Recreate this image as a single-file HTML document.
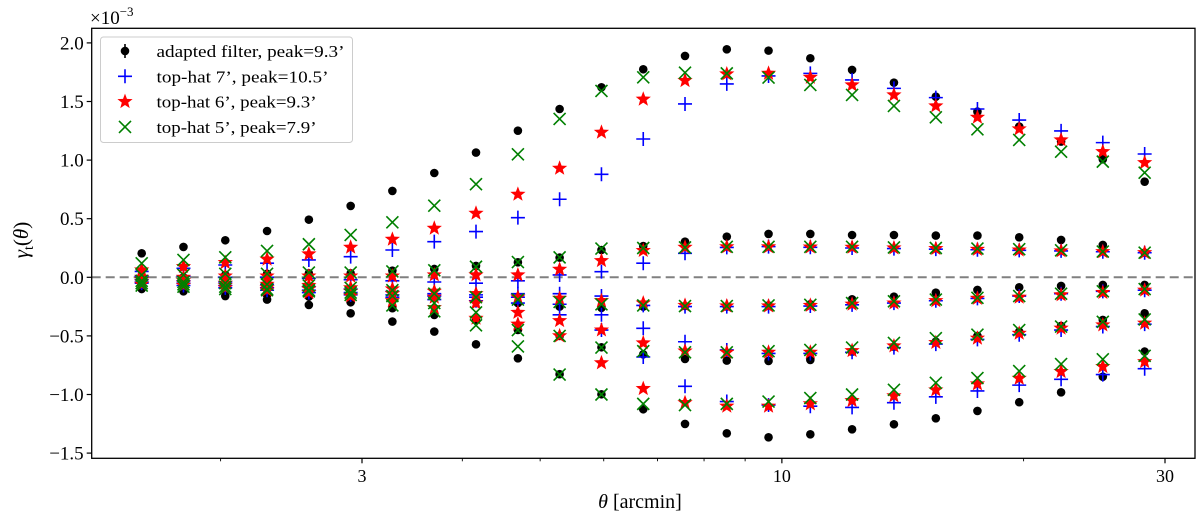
<!DOCTYPE html>
<html><head><meta charset="utf-8"><style>
html,body{margin:0;padding:0;background:#fff;}
svg{display:block;font-family:"Liberation Serif",serif;}
</style></head><body>
<svg id="chart" width="1200" height="520" viewBox="0 0 1200 520" xmlns="http://www.w3.org/2000/svg">
<g id="plot"></g>
<g id="axes"></g>
<g id="legend"></g>
</svg>
<script>
const theta = [1.595,1.798,2.027,2.285,2.576,2.904,3.273,3.691,4.160,4.691,5.287,5.961,6.720,7.575,8.539,9.625,10.85,12.23,13.79,15.55,17.52,19.75,22.27,25.10,28.30];
const yTicks = [2.0,1.5,1.0,0.5,0.0,-0.5,-1.0,-1.5];
const xMajor = [3,10,30];
const xMinor = [2,4,5,6,7,8,9,20];

const black1=[0.205,0.259,0.316,0.395,0.492,0.609,0.737,0.890,1.064,1.251,1.436,1.621,1.775,1.889,1.945,1.934,1.869,1.769,1.661,1.541,1.414,1.286,1.158,1.007,0.816];
const black2=[-0.02,0.0,0.02,0.03,0.034,0.034,0.057,0.071,0.097,0.128,0.168,0.233,0.267,0.304,0.347,0.37,0.37,0.361,0.361,0.356,0.356,0.341,0.319,0.276,0.21];
const black3=[-0.03,-0.04,-0.05,-0.06,-0.08,-0.11,-0.14,-0.17,-0.2,-0.22,-0.25,-0.26,-0.25,-0.245,-0.25,-0.24,-0.23,-0.188,-0.165,-0.131,-0.108,-0.085,-0.074,-0.065,-0.065];
const black4=[-0.07,-0.09,-0.12,-0.15,-0.165,-0.213,-0.264,-0.321,-0.364,-0.449,-0.5,-0.597,-0.657,-0.697,-0.711,-0.714,-0.705,-0.634,-0.592,-0.549,-0.50,-0.464,-0.415,-0.364,-0.307];
const black5=[-0.10,-0.12,-0.16,-0.19,-0.236,-0.307,-0.378,-0.463,-0.572,-0.691,-0.827,-0.998,-1.126,-1.251,-1.331,-1.365,-1.34,-1.297,-1.254,-1.203,-1.14,-1.066,-0.981,-0.848,-0.634];

const blue1=[0.05,0.077,0.105,0.12,0.148,0.176,0.233,0.304,0.39,0.509,0.666,0.879,1.18,1.479,1.65,1.718,1.74,1.684,1.612,1.533,1.436,1.342,1.249,1.149,1.052];
const blue2=[0.01,0.01,0.0,0.0,-0.01,-0.02,-0.03,-0.04,-0.05,-0.03,0.02,0.048,0.12,0.205,0.255,0.262,0.256,0.25,0.245,0.24,0.235,0.23,0.225,0.218,0.21];
const blue3=[-0.02,-0.03,-0.04,-0.06,-0.08,-0.1,-0.12,-0.14,-0.15,-0.14,-0.14,-0.16,-0.24,-0.25,-0.25,-0.25,-0.245,-0.235,-0.22,-0.2,-0.18,-0.16,-0.14,-0.12,-0.11];
const blue4=[-0.04,-0.05,-0.07,-0.09,-0.11,-0.13,-0.15,-0.16,-0.17,-0.17,-0.23,-0.32,-0.435,-0.55,-0.62,-0.65,-0.65,-0.64,-0.6,-0.57,-0.53,-0.49,-0.45,-0.42,-0.4];
const blue5=[-0.05,-0.07,-0.09,-0.11,-0.13,-0.15,-0.17,-0.19,-0.2,-0.22,-0.32,-0.45,-0.68,-0.93,-1.06,-1.09,-1.1,-1.11,-1.07,-1.02,-0.97,-0.92,-0.87,-0.83,-0.78];

const red1=[0.063,0.091,0.125,0.154,0.199,0.256,0.324,0.418,0.546,0.708,0.93,1.237,1.519,1.678,1.735,1.74,1.706,1.641,1.556,1.462,1.365,1.266,1.172,1.072,0.978];
const red2=[0.0,0.0,0.01,0.01,0.01,0.01,0.01,0.02,0.02,0.02,0.068,0.142,0.228,0.256,0.26,0.26,0.258,0.256,0.25,0.245,0.238,0.232,0.225,0.218,0.21];
const red3=[-0.02,-0.03,-0.05,-0.06,-0.07,-0.09,-0.1,-0.12,-0.14,-0.17,-0.18,-0.2,-0.22,-0.24,-0.245,-0.245,-0.24,-0.23,-0.22,-0.2,-0.18,-0.17,-0.15,-0.13,-0.11];
const red4=[-0.04,-0.05,-0.07,-0.09,-0.1,-0.12,-0.14,-0.17,-0.22,-0.3,-0.37,-0.45,-0.56,-0.63,-0.64,-0.64,-0.64,-0.626,-0.586,-0.557,-0.52,-0.478,-0.435,-0.407,-0.392];
const red5=[-0.06,-0.07,-0.09,-0.11,-0.13,-0.16,-0.2,-0.26,-0.35,-0.4,-0.5,-0.73,-0.95,-1.07,-1.1,-1.1,-1.08,-1.052,-1.012,-0.961,-0.91,-0.862,-0.805,-0.762,-0.72];

const green1=[0.119,0.148,0.171,0.225,0.282,0.361,0.469,0.611,0.794,1.049,1.351,1.59,1.706,1.746,1.74,1.704,1.641,1.556,1.462,1.365,1.263,1.172,1.072,0.987,0.893];
const green2=[0.02,0.02,0.03,0.03,0.04,0.04,0.05,0.06,0.09,0.13,0.17,0.245,0.25,0.255,0.26,0.26,0.26,0.26,0.255,0.25,0.245,0.24,0.23,0.22,0.21];
const green3=[-0.03,-0.04,-0.05,-0.06,-0.07,-0.09,-0.11,-0.14,-0.17,-0.19,-0.21,-0.23,-0.24,-0.245,-0.245,-0.24,-0.235,-0.22,-0.205,-0.19,-0.175,-0.16,-0.14,-0.12,-0.1];
const green4=[-0.05,-0.06,-0.08,-0.1,-0.11,-0.13,-0.16,-0.22,-0.3,-0.45,-0.5,-0.6,-0.63,-0.64,-0.64,-0.63,-0.62,-0.6,-0.56,-0.52,-0.49,-0.45,-0.42,-0.38,-0.36];
const green5=[-0.07,-0.08,-0.1,-0.11,-0.12,-0.15,-0.24,-0.29,-0.41,-0.59,-0.83,-1.0,-1.08,-1.09,-1.08,-1.06,-1.03,-1.0,-0.96,-0.9,-0.86,-0.8,-0.74,-0.7,-0.67];

const NS="http://www.w3.org/2000/svg";
const L=91.7,R=1195,T=28.3,B=458.3;
function xs(t){return 362+(Math.log10(t)-Math.log10(3))*803;}
function ys(v){return 277.3-v*117.2;}
function mk(tag,attrs,parent){const e=document.createElementNS(NS,tag);for(const k in attrs)e.setAttribute(k,attrs[k]);parent.appendChild(e);return e;}

const plot=document.getElementById('plot');
const axes=document.getElementById('axes');
const legend=document.getElementById('legend');

const zl=mk('line',{x1:L,x2:R,y1:ys(0),y2:ys(0),stroke:'#808080','stroke-width':2,'stroke-dasharray':'9,5'},plot);



function starPath(cx,cy,r){let d='';for(let i=0;i<10;i++){const a=-Math.PI/2+i*Math.PI/5;const rr=i%2?r*0.42:r;d+=(i?'L':'M')+(cx+rr*Math.cos(a)).toFixed(2)+','+(cy+rr*Math.sin(a)).toFixed(2);}return d+'Z';}
function drawMarker(kind,cx,cy,g){
  if(kind==='dot'){return mk('circle',{cx:cx,cy:cy,r:4.3,fill:'#000'},g);}
  if(kind==='plus'){const s=7;return mk('path',{d:`M${cx-s},${cy}H${cx+s}M${cx},${cy-s}V${cy+s}`,stroke:'#0000ff','stroke-width':1.6,fill:'none'},g);}
  if(kind==='star'){return mk('path',{d:starPath(cx,cy,8),fill:'#ff0000'},g);}
  if(kind==='x'){const s=6;return mk('path',{d:`M${cx-s},${cy-s}L${cx+s},${cy+s}M${cx-s},${cy+s}L${cx+s},${cy-s}`,stroke:'#008000','stroke-width':1.6,fill:'none'},g);}
}
const series=[
  {name:'adapted-filter',kind:'dot',curves:[black1,black2,black3,black4,black5]},
  {name:'top-hat-7',kind:'plus',curves:[blue1,blue2,blue3,blue4,blue5]},
  {name:'top-hat-6',kind:'star',curves:[red1,red2,red3,red4,red5]},
  {name:'top-hat-5',kind:'x',curves:[green1,green2,green3,green4,green5]}
];
series.forEach(s=>{
  const g=mk('g',{},plot);
  
  
  s.curves.forEach((c,ci)=>{
    c.forEach((v,i)=>{
      const m=drawMarker(s.kind,xs(theta[i]),ys(v),g);
      
      
    });
  });
});

const fr=mk('rect',{x:L,y:T,width:R-L,height:B-T,fill:'none',stroke:'#000','stroke-width':1.3},axes);



yTicks.forEach(v=>{
  const y=ys(v);
  const tk=mk('line',{x1:L-5,x2:L,y1:y,y2:y,stroke:'#000','stroke-width':1.2},axes);
  
  
  const t=mk('text',{x:L-8,y:y+6.5,'text-anchor':'end','font-size':19,fill:'#000'},axes);
  t.textContent=(v<0?'\u2212':'')+Math.abs(v).toFixed(1);
  
  
});
xMajor.forEach(v=>{
  const x=xs(v);
  const tk=mk('line',{x1:x,x2:x,y1:B,y2:B+5,stroke:'#000','stroke-width':1.2},axes);
  
  
  const t=mk('text',{x:x,y:482,'text-anchor':'middle','font-size':18,fill:'#000'},axes);
  t.textContent=String(v);
  
  
});
xMinor.forEach(v=>{
  const x=xs(v);
  const tk=mk('line',{x1:x,x2:x,y1:B,y2:B+3,stroke:'#000','stroke-width':0.9},axes);
  
  
});
const xt=mk('text',{x:640,y:508,'text-anchor':'middle','font-size':20,fill:'#000'},axes);
xt.innerHTML='<tspan font-style="italic">θ</tspan> [arcmin]';


const yt=mk('text',{x:0,y:0,'text-anchor':'middle','font-size':21,fill:'#000',transform:'translate(28,240) rotate(-90)'},axes);
yt.innerHTML='<tspan font-style="italic">γ</tspan><tspan font-size="14" dy="5">t</tspan><tspan dy="-5">(</tspan><tspan font-style="italic">θ</tspan>)';


const sc=mk('text',{x:90,y:24,'font-size':19,fill:'#000'},axes);
sc.innerHTML='×10<tspan font-size="13" dy="-8">−3</tspan>';



const lb=mk('rect',{x:100.5,y:37,width:252,height:105.5,rx:3,fill:'#fff','fill-opacity':0.85,stroke:'#cccccc','stroke-width':1},legend);


const labels=["adapted filter, peak=9.3’","top-hat 7’, peak=10.5’","top-hat 6’, peak=9.3’","top-hat 5’, peak=7.9’"];
const kinds=['dot','plus','star','x'];
const lens=[188,172,160,160];
labels.forEach((lab,i)=>{
  const cy=51+i*25.3;
  const g=mk('g',{},legend);
  
  
  if(kinds[i]==='dot'){mk('line',{x1:125,x2:125,y1:cy-7,y2:cy+7,stroke:'#000','stroke-width':1.6},g);}
  drawMarker(kinds[i],125,cy,g);
  const t=mk('text',{x:156.5,y:cy+6,'font-size':17,fill:'#000',textLength:lens[i],lengthAdjust:'spacingAndGlyphs'},g);
  t.textContent=lab;
  
  
});
</script>
</body></html>
